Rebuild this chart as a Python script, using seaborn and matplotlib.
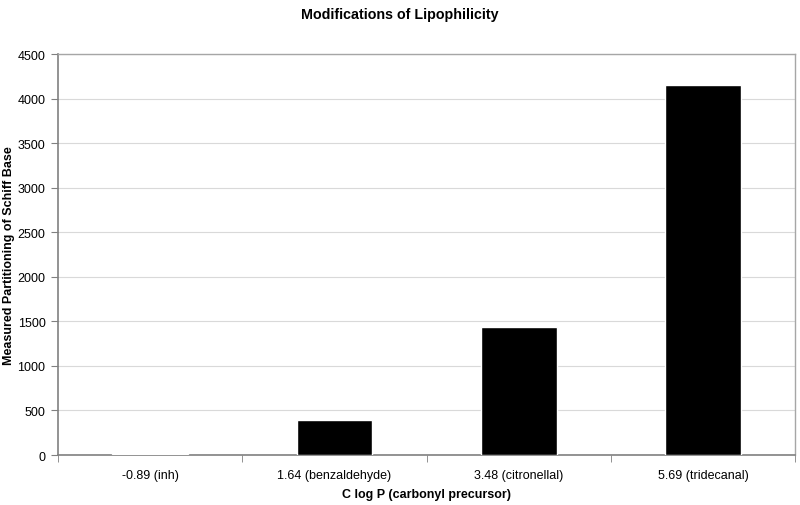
import pandas as pd
import matplotlib.pyplot as plt
import seaborn as sns
from matplotlib.ticker import FixedLocator

categories = ['-0.89 (inh)', '1.64 (benzaldehyde)', '3.48 (citronellal)', '5.69 (tridecanal)']
partitioning = [10, 395, 1432, 4158]

df = pd.DataFrame({'clogp': categories, 'value': partitioning})

sns.set_style('white')
plt.rcParams['font.family'] = ['Liberation Sans', 'DejaVu Sans']
plt.rcParams['text.color'] = 'black'
plt.rcParams['xtick.color'] = 'black'
plt.rcParams['ytick.color'] = 'black'
plt.rcParams['axes.labelcolor'] = 'black'

fig = plt.figure(figsize=(8, 5.06), dpi=100)
ax = fig.add_axes([0.0725, 0.0988, 0.9215, 0.7922])

sns.barplot(data=df, x='clogp', y='value', color='black', width=0.41,
            saturation=1, ax=ax, zorder=3)

ax.set_xlim(-0.5, 3.5)
ax.set_ylim(0, 4500)
ax.set_yticks(range(0, 4501, 500))
ax.yaxis.grid(True, color='#d9d9d9', linewidth=0.8, zorder=0)
ax.set_axisbelow(True)

for side in ['left', 'bottom']:
    ax.spines[side].set_color('#808080')
    ax.spines[side].set_linewidth(1.2)
for side in ['top', 'right']:
    ax.spines[side].set_color('#a6a6a6')
    ax.spines[side].set_linewidth(1.0)

ax.xaxis.set_minor_locator(FixedLocator([-0.5, 0.5, 1.5, 2.5, 3.5]))
ax.tick_params(axis='x', which='major', length=0, labelsize=9, pad=10)
ax.tick_params(axis='x', which='minor', length=5, color='#808080', bottom=True)
ax.tick_params(axis='y', length=5, color='#808080', left=True, labelsize=9, pad=4)

ax.set_xlabel('C log P (carbonyl precursor)', fontsize=9, fontweight='bold', labelpad=5)
ax.set_ylabel('Measured Partitioning of Schiff Base', fontsize=9, fontweight='bold')
ax.yaxis.set_label_coords(-0.059, 0.5)
fig.suptitle('Modifications of Lipophilicity', fontsize=10.3, fontweight='bold', y=0.985)

fig.savefig('out.png', dpi=100)
